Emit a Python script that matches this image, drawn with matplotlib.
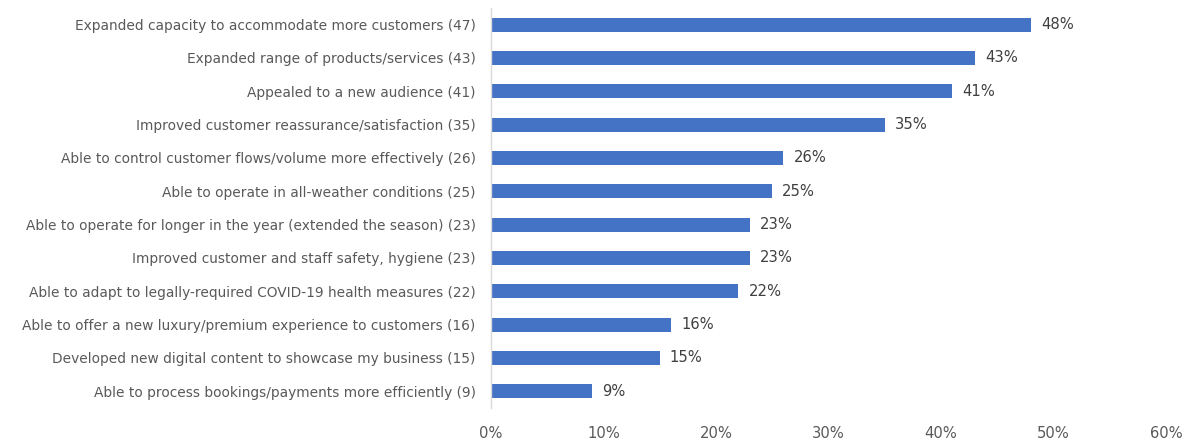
import matplotlib
matplotlib.use("Agg")
import matplotlib.pyplot as plt
from matplotlib.ticker import FuncFormatter

categories = [
    "Expanded capacity to accommodate more customers (47)",
    "Expanded range of products/services (43)",
    "Appealed to a new audience (41)",
    "Improved customer reassurance/satisfaction (35)",
    "Able to control customer flows/volume more effectively (26)",
    "Able to operate in all-weather conditions (25)",
    "Able to operate for longer in the year (extended the season) (23)",
    "Improved customer and staff safety, hygiene (23)",
    "Able to adapt to legally-required COVID-19 health measures (22)",
    "Able to offer a new luxury/premium experience to customers (16)",
    "Developed new digital content to showcase my business (15)",
    "Able to process bookings/payments more efficiently (9)",
]
values = [48, 43, 41, 35, 26, 25, 23, 23, 22, 16, 15, 9]
x_ticks = [0, 10, 20, 30, 40, 50, 60]

bar_color = "#4472C4"
text_color = "#595959"

fig = plt.figure(figsize=(11.85, 4.41), dpi=100)
ax = fig.add_axes([0.4143, 0.075, 0.5697, 0.907])

y = list(range(len(categories)))
ax.barh(y, values, height=0.42, color=bar_color)
ax.set_ylim(len(categories) - 0.5, -0.5)
ax.set_xlim(0, 60)

for yi, v in zip(y, values):
    ax.text(v + 0.9, yi, f"{v}%", va="center", ha="left",
            fontsize=11.8, color="#404040", fontstretch="condensed")

ax.set_yticks(y)
ax.set_yticklabels(categories, fontsize=9.9, color=text_color)
ax.set_xticks(x_ticks)
ax.xaxis.set_major_formatter(FuncFormatter(lambda v, p: f"{int(v)}%"))
for lbl in ax.get_xticklabels():
    lbl.set_fontsize(11.8)
    lbl.set_color(text_color)
    lbl.set_fontstretch("condensed")

ax.tick_params(axis="both", length=0)
ax.tick_params(axis="x", pad=13)
ax.tick_params(axis="y", pad=11)

for side in ["top", "right", "bottom"]:
    ax.spines[side].set_visible(False)
ax.spines["left"].set_color("#D9D9D9")
ax.spines["left"].set_linewidth(1)

fig.savefig("out.png", dpi=100)
